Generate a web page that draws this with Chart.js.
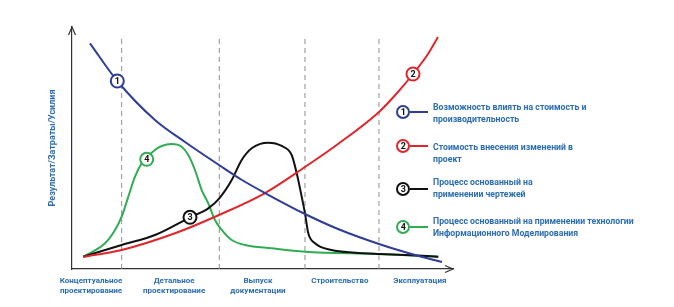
<!DOCTYPE html>
<html><head><meta charset="utf-8">
<script src="https://cdn.jsdelivr.net/npm/chart.js@4/dist/chart.umd.min.js"></script>
<style>
html,body{margin:0;padding:0;background:#fff;}
#wrap{position:relative;width:674px;height:307px;overflow:hidden;}
canvas{position:absolute;left:0;top:0;}
.badge{position:absolute;width:14px;height:14px;box-sizing:border-box;border:2px solid;border-radius:50%;background:#fff;font:bold 9px Roboto, sans-serif;color:#111;text-align:center;line-height:10px;}
.stub{position:absolute;height:2px;width:18px;}
.txt{position:absolute;left:433px;font:bold 8.7px Roboto, sans-serif;color:#2a6db5;line-height:12px;white-space:nowrap;}
</style></head>
<body><div id="wrap"><canvas id="c" width="674" height="307"></canvas></div>
<script>
// ---- data ----
const phaseLabels = [["Концептуальное","проектирование"],["Детальное","проектирование"],["Выпуск","документации"],"Строительство","Эксплуатация"];
const phaseLabelPos = [5.0, 26.8, 48.8, 70.3, 91.3];
const phaseBounds = [13.04, 38.66, 61.15, 80.58];
const axisTitle = "Результат/Затраты/Усилия";

const seriesNames = [
  ["Возможность влиять на стоимость и","производительность"],
  ["Стоимость внесения изменений в","проект"],
  ["Процесс основанный на","применении чертежей"],
  ["Процесс основанный на применении технологии","Информационного Моделирования"]
];
const seriesNumbers = ["1","2","3","4"];

const blueX = [4.72, 11.89, 21.78, 29.66, 38.58, 44.62, 50.66, 61.15, 69.82, 80.58, 90.03, 97.11];
const blueY = [93.26, 77.69, 61.57, 52.48, 42.98, 36.78, 31.4, 22.73, 16.53, 10.33, 5.79, 2.89];

const redX = [2.97, 13.04, 27.03, 38.58, 50.66, 61.15, 69.82, 80.58, 85.56, 89.5, 93.44, 96.06];
const redY = [5.08, 7.85, 14.75, 22.31, 31.4, 42.15, 51.65, 64.88, 73.14, 80.58, 88.84, 95.87];

const blackX = [2.97, 13.04, 21.78, 30.97, 35.77, 38.66, 41.92, 44.54, 47.17, 51.52, 55.04, 57.66, 58.98, 60.29, 61.15, 62.02, 63.78, 68.16, 74.28, 80.58, 87.4, 96.14];
const blackY = [5.08, 9.92, 14.05, 21.36, 25.08, 29.21, 36.78, 45.04, 49.88, 52.19, 50.83, 47.11, 39.55, 29.88, 23.02, 14.75, 10.62, 7.85, 6.74, 6.2, 5.79, 5.08];

const greenX = [2.97, 8.66, 11.29, 13.04, 14.78, 16.54, 18.29, 21.78, 23.54, 26.17, 28.79, 30.52, 32.28, 34.04, 35.77, 37.53, 39.29, 41.92, 45.41, 52.41, 61.15, 80.58, 96.14];
const greenY = [5.08, 10.62, 16.12, 21.61, 29.88, 38.14, 43.68, 49.17, 50.83, 51.65, 50.54, 47.11, 40.91, 32.64, 27.15, 20.25, 16.12, 11.98, 9.92, 8.55, 7.15, 6.2, 5.08];

const markerX = [11.89, 89.5, 30.97, 19.61];
const markerY = [77.69, 80.58, 21.36, 45.33];
const dashTop = 95.45;

// ---- styles ----
const colors = ["#2e3d98", "#e0262b", "#111111", "#30ad52"];
const textBlue = "#2a6db5";
const font = "Roboto, sans-serif";

const zip = (xs, ys) => xs.map((x, i) => ({x, y: ys[i]}));
const curves = [zip(blueX, blueY), zip(redX, redY), zip(blackX, blackY), zip(greenX, greenY)];

const datasets = [];
phaseBounds.forEach(b => datasets.push({
  data: [{x: b, y: 0}, {x: b, y: dashTop}],
  borderColor: "#8f8f8f", borderWidth: 1, borderDash: [5, 4],
  pointRadius: 0, fill: false, order: 10, tension: 0
}));
curves.forEach((d, i) => datasets.push({
  data: d, borderColor: colors[i], borderWidth: 2, pointRadius: 0,
  fill: false, cubicInterpolationMode: "monotone", order: 5
}));
markerX.forEach((x, i) => datasets.push({
  data: [{x, y: markerY[i]}], showLine: false, pointRadius: 6.5,
  pointBorderWidth: 2, pointBackgroundColor: "#fff", pointBorderColor: colors[i],
  order: 0, markerLabel: seriesNumbers[i]
}));

const decor = {
  id: "decor",
  afterDatasetsDraw(chart) {
    const ctx = chart.ctx;
    ctx.save();
    ctx.font = "bold 9px " + font;
    ctx.fillStyle = "#111";
    ctx.textAlign = "center";
    ctx.textBaseline = "middle";
    chart.data.datasets.forEach((ds, i) => {
      if (!ds.markerLabel) return;
      const el = chart.getDatasetMeta(i).data[0];
      ctx.fillText(ds.markerLabel, el.x, el.y + 0.5);
    });
    ctx.restore();
  },
  afterDraw(chart) {
    const {ctx, chartArea: a} = chart;
    ctx.save();
    ctx.strokeStyle = "#333";
    ctx.lineWidth = 1.2;
    ctx.beginPath();
    ctx.moveTo(a.left - 3.5, a.top + 8); ctx.lineTo(a.left, a.top); ctx.lineTo(a.left + 3.5, a.top + 8);
    ctx.moveTo(a.right - 8, a.bottom - 3.5); ctx.lineTo(a.right, a.bottom); ctx.lineTo(a.right - 8, a.bottom + 3.5);
    ctx.stroke();
    ctx.restore();
  }
};

new Chart(document.getElementById("c"), {
  type: "line",
  data: {datasets},
  options: {
    responsive: false, animation: false, events: [],
    layout: {padding: {left: 47.6, top: 27, right: 221, bottom: 4}},
    plugins: {legend: {display: false}, tooltip: {enabled: false}},
    scales: {
      x: {
        type: "linear", min: 0, max: 100,
        grid: {display: false, drawTicks: false},
        border: {display: true, color: "#333", width: 1.2},
        afterBuildTicks: s => { s.ticks = phaseLabelPos.map(v => ({value: v})); },
        ticks: {
          autoSkip: false, maxRotation: 0, minRotation: 0, padding: 7,
          color: textBlue, font: {family: font, size: 8, weight: "bold", lineHeight: 1.25},
          callback: (v, i) => phaseLabels[i]
        }
      },
      y: {
        min: 0, max: 100,
        grid: {display: false, drawTicks: false},
        border: {display: true, color: "#333", width: 1.2},
        ticks: {display: false},
        title: {display: true, text: axisTitle, color: textBlue,
          font: {family: font, size: 9, weight: "bold", lineHeight: 1.2},
          padding: {top: 0, bottom: 13.6}}
      }
    }
  },
  plugins: [decor]
});

// HTML legend
const wrap = document.getElementById("wrap");
const badgeCy = [112, 146, 188.5, 226.5];
const textTop = [100.5, 140.5, 175.5, 215];
seriesNames.forEach((lines, i) => {
  const b = document.createElement("div");
  b.className = "badge";
  b.style.left = (403.3 - 7) + "px"; b.style.top = (badgeCy[i] - 7) + "px";
  b.style.borderColor = colors[i];
  b.textContent = seriesNumbers[i];
  const s = document.createElement("div");
  s.className = "stub";
  s.style.left = "410px"; s.style.top = (badgeCy[i] - 1) + "px";
  s.style.background = colors[i];
  const t = document.createElement("div");
  t.className = "txt";
  t.style.top = textTop[i] + "px";
  t.innerHTML = lines.join("<br>");
  wrap.appendChild(s); wrap.appendChild(b); wrap.appendChild(t);
});
</script>
</body></html>
